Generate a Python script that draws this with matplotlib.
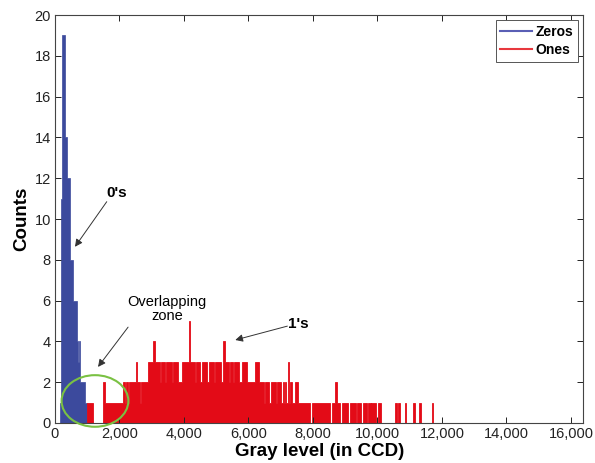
import matplotlib
matplotlib.use("Agg")
import matplotlib.pyplot as plt
from matplotlib.patches import Ellipse
from matplotlib.lines import Line2D
from matplotlib.ticker import FuncFormatter, MultipleLocator

plt.rcParams['font.family'] = ['Liberation Sans', 'DejaVu Sans']

# Zeros: histogram runs (gray-level edges) and counts per run
zeros_edges = [150, 190, 220, 310, 375, 465, 550, 675, 720, 740, 780, 930, 980]
zeros_counts = [1, 11, 19, 14, 12, 8, 6, 4, 3, 4, 2, 1]

# Ones: histogram runs (gray-level edges) and counts per run
ones_edges = [0, 980, 1190, 1500, 1550, 2120, 2170, 2200, 2270, 2290, 2500, 2550,
              2640, 2660, 2890, 3040, 3110, 3260, 3285, 3420, 3450, 3630, 3660,
              3820, 3950, 4150, 4190, 4350, 4380, 4500, 4570, 4720, 4780, 4940,
              4970, 5160, 5220, 5280, 5385, 5435, 5530, 5555, 5695, 5800, 5955,
              6210, 6335, 6470, 6525, 6625, 6710, 6850, 6880, 7020, 7060, 7115,
              7145, 7175, 7215, 7270, 7300, 7360, 7455, 7525, 7920, 7970, 8540,
              8575, 8675, 8750, 8850, 8905, 9100, 9160, 9320, 9350, 9475, 9565,
              9680, 9710, 9785, 9815, 9940, 10030, 10110, 10540, 10600, 10630,
              10700, 10840, 10900, 11090, 11150, 11280, 11340, 11680, 11730, 16384]
ones_counts = [0, 1, 0, 2, 1, 2, 1, 2, 1, 2, 3,
               2, 1, 2, 3, 4, 3, 2, 3, 2, 3, 2,
               3, 2, 3, 5, 3, 2, 3, 2, 3, 2, 3,
               2, 3, 2, 4, 3, 2, 3, 2, 3, 2, 3,
               2, 3, 2, 1, 2, 1, 2, 1, 2, 1, 2,
               1, 2, 1, 3, 1, 2, 1, 2, 1, 0, 1,
               0, 1, 2, 1, 0, 1, 0, 1, 0, 1, 0,
               1, 0, 1, 0, 1, 0, 1, 0, 1, 0,
               1, 0, 1, 0, 1, 0, 1, 0, 1, 0]

x_ticks = [0, 2000, 4000, 6000, 8000, 10000, 12000, 14000, 16000]
x_max = 16384
y_max = 20

blue = '#3c4a9d'
red = '#e30b17'

fig = plt.figure(figsize=(5.95, 4.63), dpi=100)
ax = fig.add_axes([0.0924, 0.0864, 0.888, 0.881])

ax.stairs(zeros_counts, zeros_edges, fill=True, facecolor=blue, edgecolor=blue,
          linewidth=0.5)
ax.stairs(ones_counts, ones_edges, fill=True, facecolor=red, edgecolor=red,
          linewidth=0.6)

ax.set_xlim(0, x_max)
ax.set_ylim(0, y_max)
ax.set_xticks(x_ticks)
ax.xaxis.set_major_formatter(FuncFormatter(lambda v, p: f"{int(v):,}"))
ax.yaxis.set_major_locator(MultipleLocator(2))
ax.tick_params(direction='in', top=True, right=True, length=4, width=0.7,
               labelsize=10.5, colors='#222222', pad=3)
for s in ax.spines.values():
    s.set_color('#444444')
    s.set_linewidth(0.8)

ax.set_xlabel('Gray level (in CCD)', fontsize=13.5, fontweight='bold', labelpad=1)
ax.set_ylabel('Counts', fontsize=13.5, fontweight='bold', labelpad=3)

arrow = dict(arrowstyle='-|>', color='#333333', lw=0.7, mutation_scale=11,
             shrinkA=0, shrinkB=0)

# 0's label
ax.text(1925, 11.3, "0's", fontsize=11, fontweight='bold', ha='center', va='center')
ax.annotate('', xy=(621, 8.64), xytext=(1605, 10.85), arrowprops=arrow)

# overlapping zone label and ring
ax.text(3480, 5.6, "Overlapping\nzone", fontsize=10.5, ha='center', va='center',
        linespacing=1.05)
ax.annotate('', xy=(1335, 2.75), xytext=(2267, 4.7), arrowprops=arrow)
ax.add_patch(Ellipse((1240, 1.08), 2070, 2.53, fill=False, edgecolor='#7ac143',
                     linewidth=1.5, clip_on=False, zorder=5))

# 1's label
ax.text(7548, 4.85, "1's", fontsize=11, fontweight='bold', ha='center', va='center')
ax.annotate('', xy=(5591, 4.07), xytext=(7206, 4.75), arrowprops=arrow)

handles = [Line2D([], [], color='#5a5fb5', lw=1.5), Line2D([], [], color='#e8383e', lw=1.5)]
leg = ax.legend(handles, ['Zeros', 'Ones'], loc='upper right', fancybox=False,
                prop={'weight': 'bold', 'size': 10}, handlelength=2.3,
                borderaxespad=0.35, handletextpad=0.25, labelspacing=0.3,
                borderpad=0.35, framealpha=1)
leg.get_frame().set_edgecolor('#555555')
leg.get_frame().set_linewidth(0.7)

fig.savefig('out.png', dpi=100)
